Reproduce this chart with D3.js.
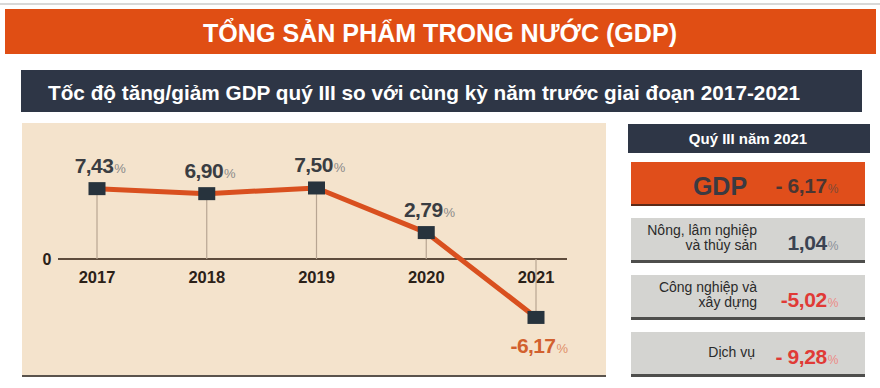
<!DOCTYPE html>
<html><head><meta charset="utf-8">
<script src="https://cdn.jsdelivr.net/npm/d3@7/dist/d3.min.js"></script>
<style>
html,body{margin:0;padding:0;background:#fff;}
svg{display:block;font-family:"Liberation Sans",Arial,sans-serif;}
</style></head>
<body>
<svg id="c" width="880" height="388"></svg>
<script>
const title = "TỔNG SẢN PHẨM TRONG NƯỚC (GDP)";
const subtitle = "Tốc độ tăng/giảm GDP quý III so với cùng kỳ năm trước giai đoạn 2017-2021";
const years = ["2017", "2018", "2019", "2020", "2021"];
const gdpGrowth = [7.43, 6.90, 7.50, 2.79, -6.17];
const panelTitle = "Quý III năm 2021";
const gdpLabel = "GDP";
const gdpValue = -6.17;
const sectorLabels = [["Nông, lâm nghiệp", "và thủy sản"], ["Công nghiệp và", "xây dựng"], ["Dịch vụ"]];
const sectorValues = [1.04, -5.02, -9.28];

const vn = d3.formatLocale({decimal: ",", thousands: ".", grouping: [3], currency: ["", "đ"], minus: "-"});
const f2 = vn.format(".2f");

const svg = d3.select("#c");

// top thin line
svg.append("rect").attr("x", 0).attr("y", 3).attr("width", 880).attr("height", 2).attr("fill", "#d8d8d8");
// orange banner
svg.append("rect").attr("x", 5).attr("y", 9).attr("width", 871).attr("height", 45).attr("fill", "#e04e14");
svg.append("text").attr("x", 440).attr("y", 42).attr("text-anchor", "middle")
  .attr("fill", "#fff").attr("font-size", 25).attr("font-weight", "bold")
  .attr("textLength", 474).attr("lengthAdjust", "spacingAndGlyphs").text(title);

// navy subtitle bar
svg.append("rect").attr("x", 21).attr("y", 70).attr("width", 841).attr("height", 42).attr("fill", "#2e3646");
svg.append("text").attr("x", 48).attr("y", 99.5)
  .attr("fill", "#fff").attr("font-size", 21).attr("font-weight", "bold")
  .attr("textLength", 752).attr("lengthAdjust", "spacingAndGlyphs").text(subtitle);

// chart panel
svg.append("rect").attr("x", 22).attr("y", 123).attr("width", 584).attr("height", 253).attr("fill", "#f4e3cc");
svg.append("rect").attr("x", 22).attr("y", 375).attr("width", 584).attr("height", 2).attr("fill", "#5a534c");

const x = d3.scalePoint().domain(years).range([97, 536]);
const y = d3.scaleLinear().domain([-10, 10]).range([353.7, 164.3]);
const data = years.map((yr, i) => ({year: yr, v: gdpGrowth[i]}));

// axis line
svg.append("line").attr("x1", 58).attr("x2", 567).attr("y1", y(0)).attr("y2", y(0))
  .attr("stroke", "#5e4c3c").attr("stroke-width", 2);
svg.append("text").attr("x", 47).attr("y", y(0) + 6).attr("text-anchor", "middle")
  .attr("font-size", 16).attr("font-weight", "bold").attr("fill", "#2b2118").text("0");

// drop lines
svg.selectAll(".drop").data(data).join("line")
  .attr("x1", d => x(d.year)).attr("x2", d => x(d.year))
  .attr("y1", d => y(d.v)).attr("y2", y(0))
  .attr("stroke", "#b7a592").attr("stroke-width", 1.2);

// year labels
svg.selectAll(".yr").data(data).join("text")
  .attr("x", d => x(d.year)).attr("y", 283).attr("text-anchor", "middle")
  .attr("font-size", 16.5).attr("font-weight", "bold").attr("fill", "#2b2118").text(d => d.year);

// line
svg.append("path").datum(data)
  .attr("d", d3.line().x(d => x(d.year)).y(d => y(d.v)))
  .attr("fill", "none").attr("stroke", "#d9501f").attr("stroke-width", 5).attr("stroke-linejoin", "round");

// markers
svg.selectAll(".mk").data(data).join("rect")
  .attr("x", d => x(d.year) - 8.5).attr("y", d => y(d.v) - 6.5)
  .attr("width", 17).attr("height", 13).attr("fill", "#27333d");

// value labels
const vl = svg.selectAll(".vl").data(data).join("text")
  .attr("x", d => x(d.year) + 3)
  .attr("y", d => d.v >= 0 ? y(d.v) - 16 : y(d.v) + 36)
  .attr("text-anchor", "middle").attr("letter-spacing", -0.6).attr("font-weight", "bold");
vl.append("tspan").attr("font-size", 21)
  .attr("fill", d => d.v >= 0 ? "#3a3d42" : "#d2602e").text(d => f2(d.v));
vl.append("tspan").attr("font-size", 13).attr("dx", 1).attr("font-weight", "normal")
  .attr("fill", d => d.v >= 0 ? "#8a8a8a" : "#e0906a").text("%");

// right panel header
svg.append("rect").attr("x", 628).attr("y", 124).attr("width", 242).attr("height", 29).attr("fill", "#2e3646");
svg.append("text").attr("x", 748).attr("y", 144).attr("text-anchor", "middle")
  .attr("fill", "#fff").attr("font-size", 15).attr("font-weight", "bold").text(panelTitle);

// GDP box
svg.append("rect").attr("x", 631).attr("y", 162).attr("width", 234).attr("height", 43).attr("fill", "#e04e1b");
svg.append("rect").attr("x", 631).attr("y", 204).attr("width", 234).attr("height", 2).attr("fill", "#5b2a18");
svg.append("text").attr("x", 720).attr("y", 195).attr("text-anchor", "middle")
  .attr("fill", "#3a3a42").attr("font-size", 25).attr("font-weight", "bold").text(gdpLabel);
const gv = svg.append("text").attr("x", 838).attr("y", 193).attr("text-anchor", "end")
  .attr("letter-spacing", -0.4).attr("font-weight", "bold");
gv.append("tspan").attr("font-size", 21).attr("fill", "#4a3632")
  .text(gdpValue < 0 ? "- " + f2(-gdpValue) : f2(gdpValue));
gv.append("tspan").attr("font-size", 12).attr("dx", 1).attr("font-weight", "normal").attr("fill", "#7c4a38").text("%");

// sector boxes
const boxTop = [218, 275, 332];
sectorLabels.forEach((lab, i) => {
  const top = boxTop[i];
  svg.append("rect").attr("x", 631).attr("y", top).attr("width", 234).attr("height", 44).attr("fill", "#d4d4d1");
  svg.append("rect").attr("x", 631).attr("y", top + 42).attr("width", 234).attr("height", 3).attr("fill", "#4e4e4c");
  const t = svg.append("text").attr("text-anchor", "end").attr("font-size", 14).attr("fill", "#2a2a2a");
  if (lab.length === 2) {
    t.append("tspan").attr("x", 757).attr("y", top + 17).text(lab[0]);
    t.append("tspan").attr("x", 757).attr("y", top + 32).text(lab[1]);
  } else {
    t.append("tspan").attr("x", 755).attr("y", top + 25).text(lab[0]);
  }
  const v = sectorValues[i];
  const col = v < 0 ? "#e03a36" : "#3b4352";
  const vt = svg.append("text").attr("x", 838).attr("y", top + 32).attr("text-anchor", "end")
    .attr("letter-spacing", -0.4).attr("font-weight", "bold");
  vt.append("tspan").attr("font-size", 21).attr("fill", col)
    .text(i === 2 ? "- " + f2(-v) : f2(v));
  vt.append("tspan").attr("font-size", 12).attr("dx", 1).attr("font-weight", "normal")
    .attr("fill", v < 0 ? "#ec8a86" : "#8a8f98").text("%");
});
</script>
</body></html>
